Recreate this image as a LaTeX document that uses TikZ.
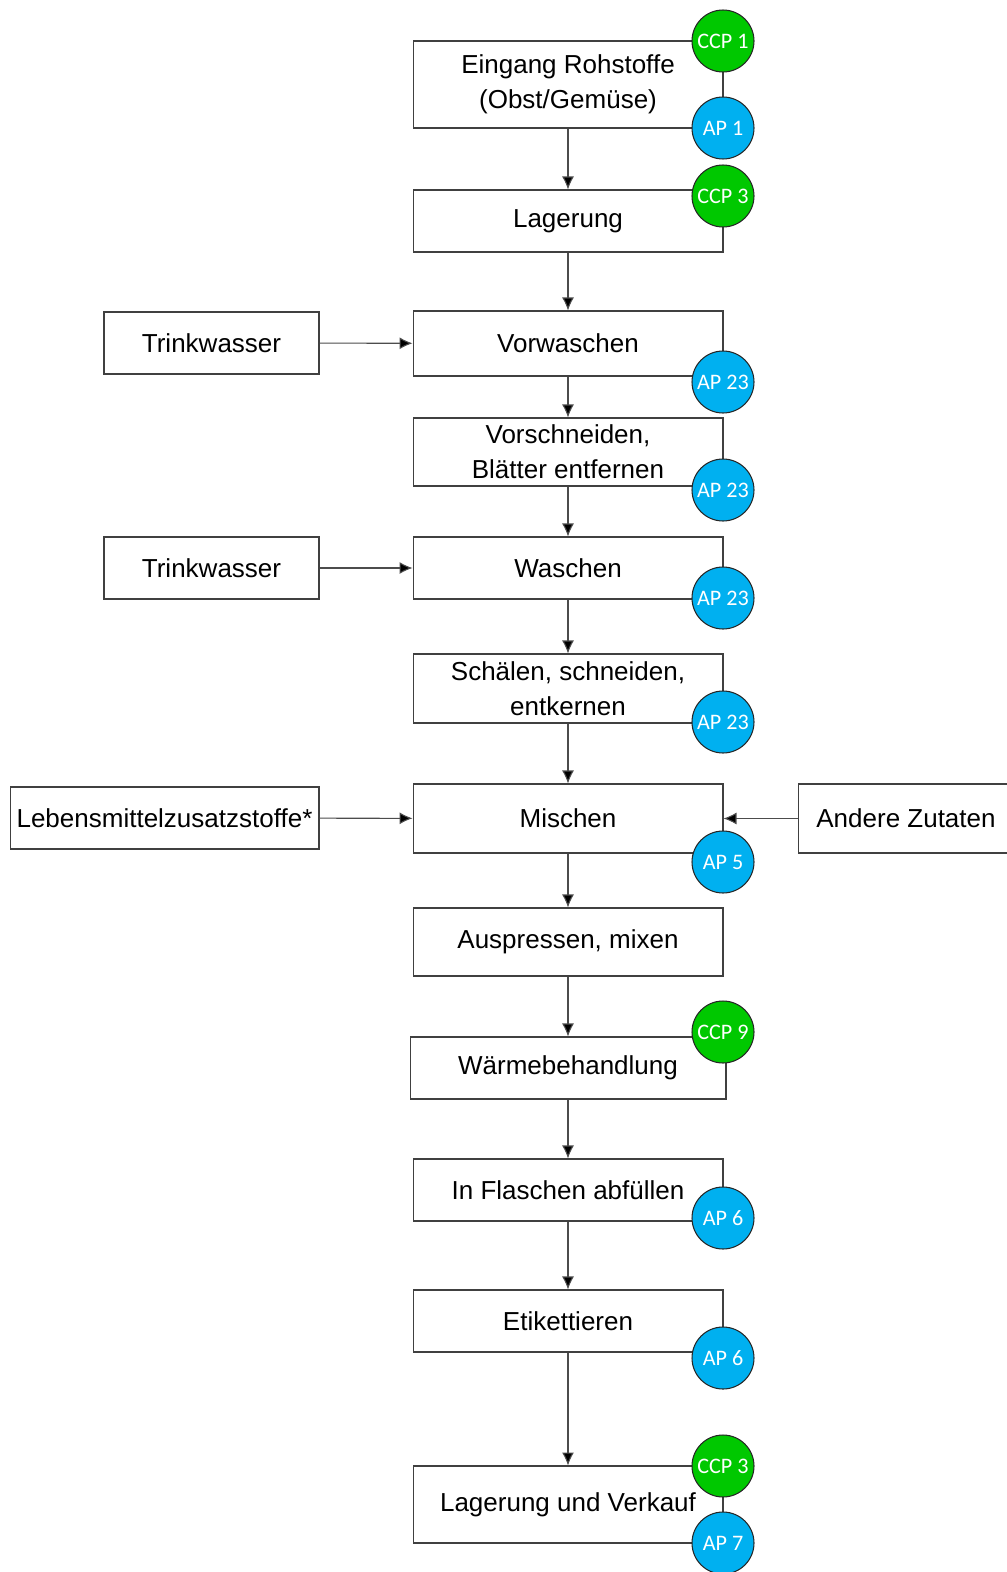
\documentclass[tikz,border=0pt]{standalone}
\usepackage{fontspec}
\setmainfont{Liberation Sans}
\newfontfamily\badgefont{Carlito}
\usetikzlibrary{arrows.meta}

\definecolor{ccpgreen}{HTML}{00C800}
\definecolor{apblue}{HTML}{00B0F0}

\begin{document}
\begin{tikzpicture}[x=0.02cm, y=-0.02cm,
  font=\fontsize{14.8pt}{19.8pt}\selectfont,
  box/.style={draw=black!75, line width=0.6pt, fill=white, minimum width=6.2cm, align=center, inner sep=1pt},
  side/.style={box, minimum width=4.3cm, minimum height=1.24cm},
  badge/.style={circle, draw=black!85, line width=0.6pt, minimum size=1.24cm, inner sep=0pt, text=white, font=\badgefont\fontsize{12.6pt}{13pt}\selectfont},
  flow/.style={draw=black!70, line width=0.6pt, -{Latex[length=2.6mm, width=2.4mm, fill=black]}}]

\useasboundingbox (0,0) rectangle (1007,1572);

% main chain of steps
\node[box, minimum height=1.74cm] (eingang) at (568,84.5) {Eingang Rohstoffe\\(Obst/Gemüse)};
\node[box, minimum height=1.24cm] (lagerung) at (568,221) {Lagerung};
\node[box, minimum height=1.30cm] (vorwaschen) at (568,343.5) {Vorwaschen};
\node[box, minimum height=1.36cm] (vorschneiden) at (568,452) {Vorschneiden,\\Blätter entfernen};
\node[box, minimum height=1.24cm] (waschen) at (568,568) {Waschen};
\node[box, minimum height=1.38cm] (schaelen) at (568,688.5) {Schälen, schneiden,\\entkernen};
\node[box, minimum height=1.38cm] (mischen) at (568,818.5) {Mischen};
\node[box, minimum height=1.36cm] (auspressen) at (568,942) {Auspressen, mixen};
\node[box, minimum height=1.24cm, minimum width=6.32cm] (waerme) at (568,1068) {Wärmebehandlung};
\node[box, minimum height=1.24cm] (abfuellen) at (568,1190) {In Flaschen abfüllen};
\node[box, minimum height=1.24cm] (etikett) at (568,1321) {Etikettieren};
\node[box, minimum height=1.54cm] (verkauf) at (568,1504.5) {Lagerung und Verkauf};

% inputs from the side
\node[side] (wasser1) at (211.5,343) {Trinkwasser};
\node[side] (wasser2) at (211.5,568) {Trinkwasser};
\node[side, minimum width=6.18cm] (zusatz) at (164.5,818) {Lebensmittelzusatzstoffe*};
\node[side, minimum height=1.38cm, minimum width=4.32cm] (andere) at (906,818.5) {Andere Zutaten};

% connectors
\draw[flow] (eingang) -- (lagerung);
\draw[flow] (lagerung) -- (vorwaschen);
\draw[flow] (vorwaschen) -- (vorschneiden);
\draw[flow] (vorschneiden) -- (waschen);
\draw[flow] (waschen) -- (schaelen);
\draw[flow] (schaelen) -- (mischen);
\draw[flow] (mischen) -- (auspressen);
\draw[flow] (auspressen) -- (waerme);
\draw[flow] (waerme) -- (abfuellen);
\draw[flow] (abfuellen) -- (etikett);
\draw[flow] (etikett) -- (verkauf);
\draw[flow] (wasser1) -- (vorwaschen);
\draw[flow] (wasser2) -- (waschen);
\draw[flow] (zusatz) -- (mischen);
\draw[flow] (andere.west) -- (mischen.east);

% CCP / AP markers
\foreach \n/\y/\lbl/\col in {1/41/CCP 1/ccpgreen, 2/128/AP 1/apblue, 3/196/CCP 3/ccpgreen,
    4/382/AP 23/apblue, 5/490/AP 23/apblue, 6/598/AP 23/apblue, 7/722/AP 23/apblue,
    8/862/AP 5/apblue, 9/1032/CCP 9/ccpgreen, 10/1218/AP 6/apblue, 11/1358/AP 6/apblue,
    12/1466/CCP 3/ccpgreen, 13/1543/AP 7/apblue} {
  \node[badge, fill=\col] (mark\n) at (723,\y) {\lbl};
}

\end{tikzpicture}
\end{document}
